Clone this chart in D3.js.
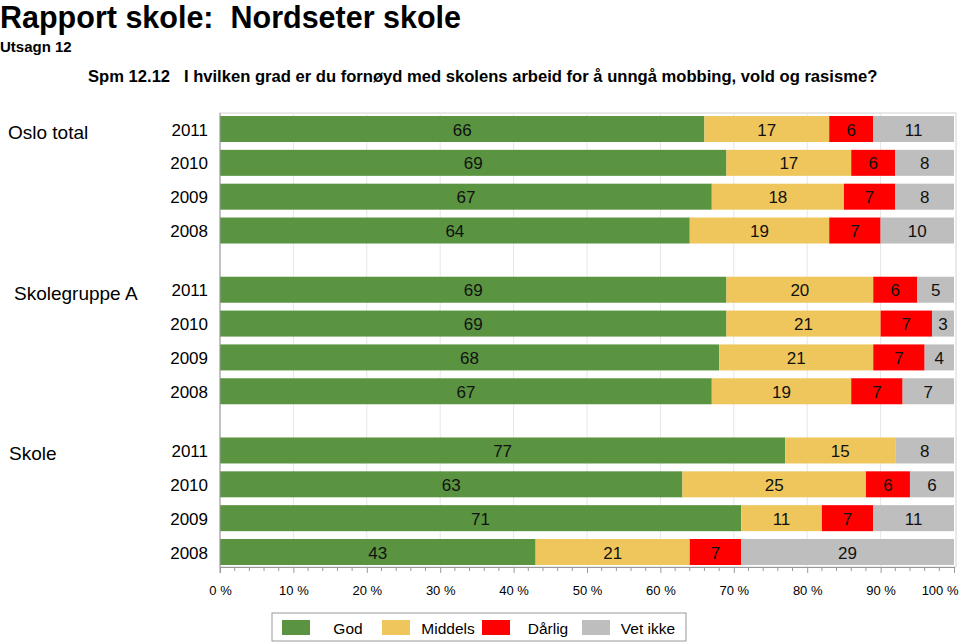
<!DOCTYPE html>
<html><head><meta charset="utf-8">
<script src="https://cdn.jsdelivr.net/npm/d3@7"></script>
<style>body{margin:0;background:#fff;} svg{display:block;font-family:"Liberation Sans",Arial,Helvetica,sans-serif;}</style>
</head><body>
<script>
const groups = ["Oslo total", "Skolegruppe A", "Skole"];
const years = ["2011", "2010", "2009", "2008"];
const seriesNames = ["God", "Middels", "Dårlig", "Vet ikke"];
const seriesColors = ["#5a9441", "#eec65b", "#ff0000", "#bebebe"];
// values per group, per year (2011..2008): [God, Middels, Dårlig, Vet ikke]
const osloTotal = [[66,17,6,11],[69,17,6,8],[67,18,7,8],[64,19,7,10]];
const skolegruppeA = [[69,20,6,5],[69,21,7,3],[68,21,7,4],[67,19,7,7]];
const skole = [[77,15,0,8],[63,25,6,6],[71,11,7,11],[43,21,7,29]];
const groupValues = [osloTotal, skolegruppeA, skole];
const xTicks = [0,10,20,30,40,50,60,70,80,90,100];

const W = 960, H = 643;
const svg = d3.select("body").append("svg").attr("width", W).attr("height", H);

// titles
svg.append("text").attr("x", 0).attr("y", 28).attr("font-size", 30.5).attr("font-weight", "bold").style("white-space","pre").text("Rapport skole:  Nordseter skole");
svg.append("text").attr("x", 0).attr("y", 52).attr("font-size", 15).attr("font-weight", "bold").text("Utsagn 12");
svg.append("text").attr("x", 88).attr("y", 82).attr("font-size", 16.6).attr("font-weight", "bold").style("white-space","pre")
  .text("Spm 12.12   I hvilken grad er du fornøyd med skolens arbeid for å unngå mobbing, vold og rasisme?");

const plot = {x0: 220, x1: 954, y0: 113, y1: 567};
const x = d3.scaleLinear().domain([0, 100]).range([plot.x0, plot.x1]);

// row layout units
const rows = [];
groups.forEach((g, gi) => {
  years.forEach((yr, yi) => {
    rows.push({group: g, gi, year: yr, yi, unit: gi * 4.75 + yi, values: groupValues[gi][yi]});
  });
});
const y = d3.scaleLinear().domain([0, 12.5]).range([129, 552]);
const barH = 26;

// frame
svg.append("rect").attr("x", plot.x0).attr("y", plot.y0).attr("width", plot.x1 - plot.x0 + 2).attr("height", plot.y1 - plot.y0)
  .attr("fill", "none").attr("stroke", "#d4d4d4");

// gridlines
svg.append("g").selectAll("line").data(xTicks.slice(1, -1)).join("line")
  .attr("x1", d => x(d)).attr("x2", d => x(d)).attr("y1", plot.y0).attr("y2", plot.y1)
  .attr("stroke", "#e6e6e6");

// bars
const rowG = svg.append("g").selectAll("g").data(rows).join("g");
rowG.each(function(r) {
  let cum = 0;
  const segs = r.values.map((v, i) => { const s = {v, i, start: cum}; cum += v; return s; });
  const g = d3.select(this);
  g.selectAll("rect").data(segs.filter(s => s.v > 0)).join("rect")
    .attr("x", s => x(s.start)).attr("width", s => x(s.start + s.v) - x(s.start))
    .attr("y", y(r.unit) - barH / 2).attr("height", barH)
    .attr("fill", s => seriesColors[s.i]);
  g.selectAll("text").data(segs.filter(s => s.v > 0)).join("text")
    .attr("x", s => x(s.start + s.v / 2)).attr("y", y(r.unit) + 6.5)
    .attr("text-anchor", "middle").attr("font-size", 17).attr("fill", "#111")
    .text(s => s.v);
});

// left axis line
svg.append("line").attr("x1", plot.x0).attr("x2", plot.x0).attr("y1", plot.y0).attr("y2", plot.y1 + 6).attr("stroke", "#999");

// year labels
svg.append("g").selectAll("text").data(rows).join("text")
  .attr("x", 208).attr("y", r => y(r.unit) + 6.5).attr("text-anchor", "end").attr("font-size", 17).text(r => r.year);

// group labels
svg.append("g").selectAll("text").data(groups).join("text")
  .attr("x", (d, i) => [8, 14, 9][i]).attr("y", (d, i) => y(i * 4.75) + 10)
  .attr("font-size", 19).text(d => d);

// x axis
const axis = d3.axisBottom(x).tickValues(xTicks).tickSize(6).tickFormat(d => d + " %");
const ax = svg.append("g").attr("transform", `translate(0,${plot.y1})`).call(axis);
ax.select(".domain").attr("stroke", "#999");
ax.selectAll(".tick line").attr("stroke", "#999");
ax.selectAll(".tick text").attr("font-size", 13).attr("fill", "#000").attr("dy", "1.45em").attr("font-family", "Liberation Sans, Arial, sans-serif")
  .filter(d => d === 100).attr("text-anchor", "end").attr("x", 4);
const minor = d3.range(0, 101, 2).filter(d => d % 10 !== 0);
svg.append("g").selectAll("line").data(minor).join("line")
  .attr("x1", d => x(d)).attr("x2", d => x(d)).attr("y1", plot.y1).attr("y2", plot.y1 + 4).attr("stroke", "#999");

// legend
const leg = svg.append("g");
leg.append("rect").attr("x", 272).attr("y", 613).attr("width", 414).attr("height", 28).attr("fill", "#fff").attr("stroke", "#999");
const li = leg.selectAll("g").data(seriesNames).join("g").attr("transform", (d, i) => `translate(${282 + i * 100},620)`);
li.append("rect").attr("width", 28).attr("height", 15).attr("fill", (d, i) => seriesColors[i]);
li.append("text").attr("x", 66).attr("y", 14).attr("text-anchor", "middle").attr("font-size", 15.5).text(d => d);
</script>
</body></html>
